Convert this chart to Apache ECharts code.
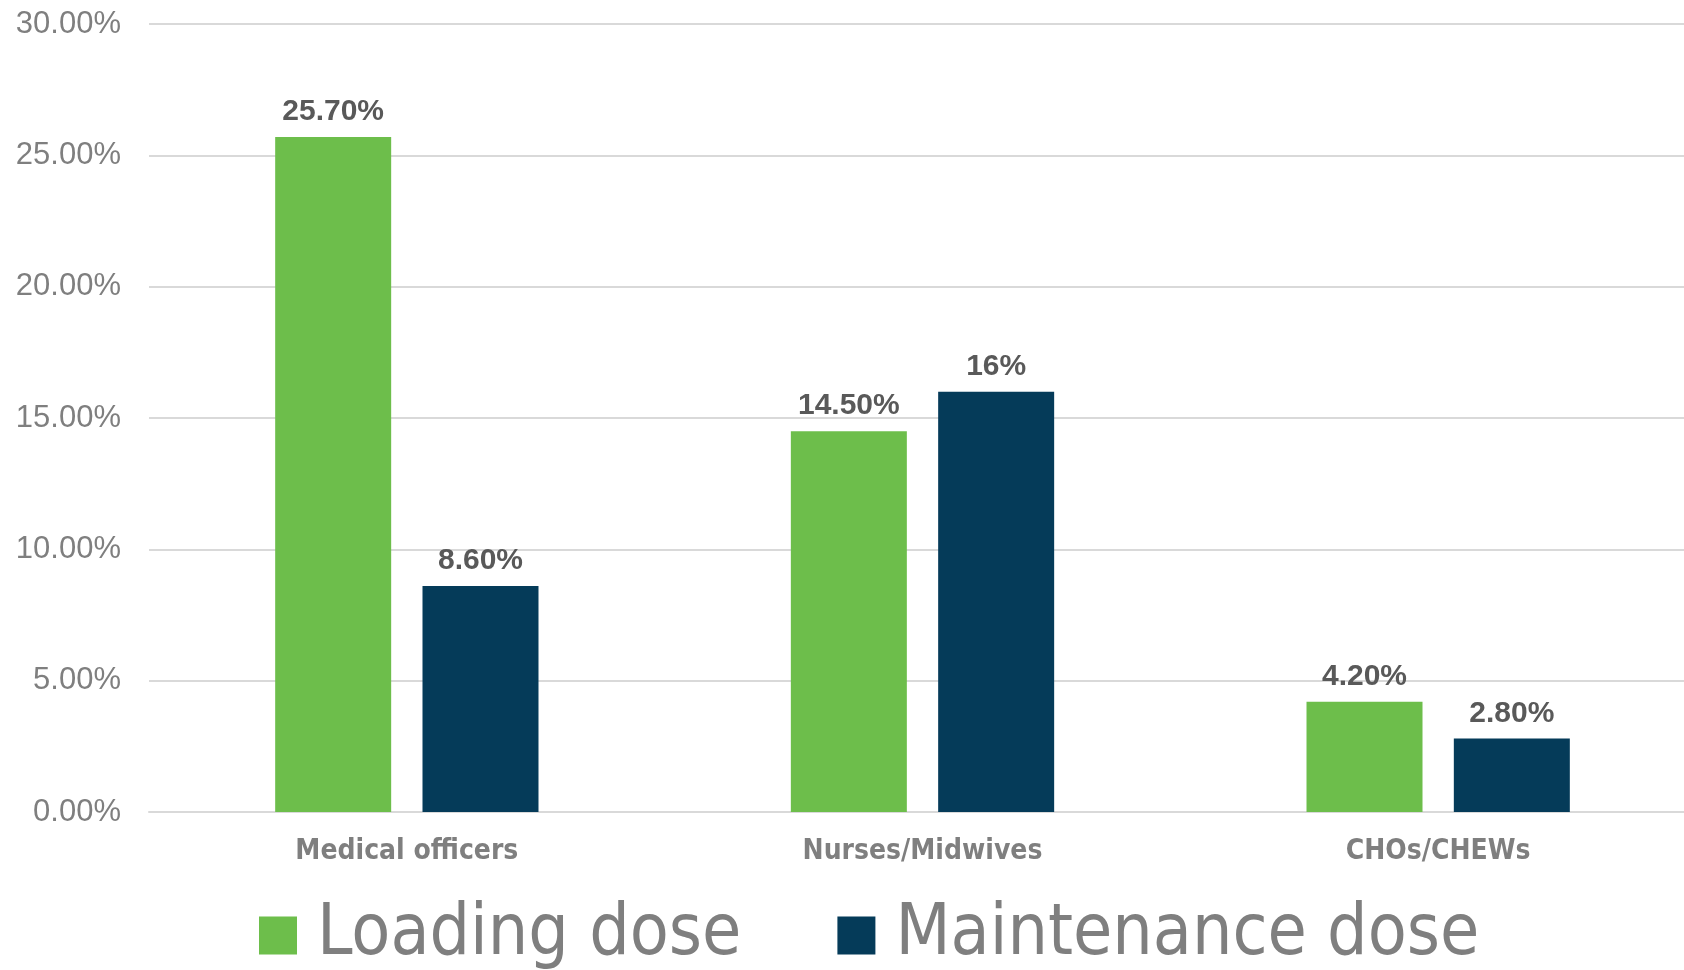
<!DOCTYPE html>
<html>
<head>
<meta charset="utf-8">
<script src="https://cdn.jsdelivr.net/npm/echarts@6/dist/echarts.min.js"></script>
<style>html,body{margin:0;padding:0;background:#fff;overflow:hidden;}#c{width:1696px;height:970px;}</style>
</head>
<body>
<div id="c"></div>
<script>
const categories = ['Medical officers', 'Nurses/Midwives', 'CHOs/CHEWs'];
const seriesNames = ['Loading dose', 'Maintenance dose'];
const loadingDose = [25.7, 14.5, 4.2];
const maintenanceDose = [8.6, 16, 2.8];
const loadingLabels = ['25.70%', '14.50%', '4.20%'];
const maintenanceLabels = ['8.60%', '16%', '2.80%'];
const yTicks = {min: 0, max: 30, interval: 5};

const narrow = '"DejaVu Sans Condensed", "Liberation Sans Narrow", sans-serif';
const chart = echarts.init(document.getElementById('c'));
function mkSeries(name, data, labels, color) {
  return {
    name: name, type: 'bar', data: data, barWidth: 116, barGap: '27%',
    itemStyle: {color: color},
    label: {
      show: true, position: 'top', distance: 10,
      formatter: p => labels[p.dataIndex],
      color: '#595959', fontSize: 30, fontWeight: 'bold',
      fontFamily: '"Liberation Sans", Arial, sans-serif'
    }
  };
}
chart.setOption({
  animation: false,
  grid: {left: 149, right: 0, top: 24, bottom: 158},
  legend: {
    data: seriesNames, top: 900, left: 259, padding: 0,
    itemWidth: 38, itemHeight: 38, itemGap: 96,
    icon: 'rect',
    textStyle: {color: '#7f7f7f', fontSize: 71, fontFamily: narrow, padding: [0, 0, 0, 15]},
    selectedMode: false
  },
  xAxis: {
    type: 'category', data: categories,
    axisLine: {lineStyle: {color: '#d9d9d9', width: 2}},
    axisTick: {show: false},
    axisLabel: {color: '#7f7f7f', fontSize: 28, fontWeight: 'bold', fontFamily: narrow, margin: 26}
  },
  yAxis: {
    type: 'value', min: yTicks.min, max: yTicks.max, interval: yTicks.interval,
    axisLine: {show: false}, axisTick: {show: false},
    splitLine: {lineStyle: {color: '#d9d9d9', width: 2}},
    axisLabel: {
      color: '#7f7f7f', fontSize: 31, margin: 28,
      fontFamily: '"Liberation Sans", Arial, sans-serif',
      formatter: v => v.toFixed(2) + '%'
    }
  },
  series: [
    mkSeries(seriesNames[0], loadingDose, loadingLabels, '#6dbe4b'),
    mkSeries(seriesNames[1], maintenanceDose, maintenanceLabels, '#053b59')
  ]
});
</script>
</body>
</html>
